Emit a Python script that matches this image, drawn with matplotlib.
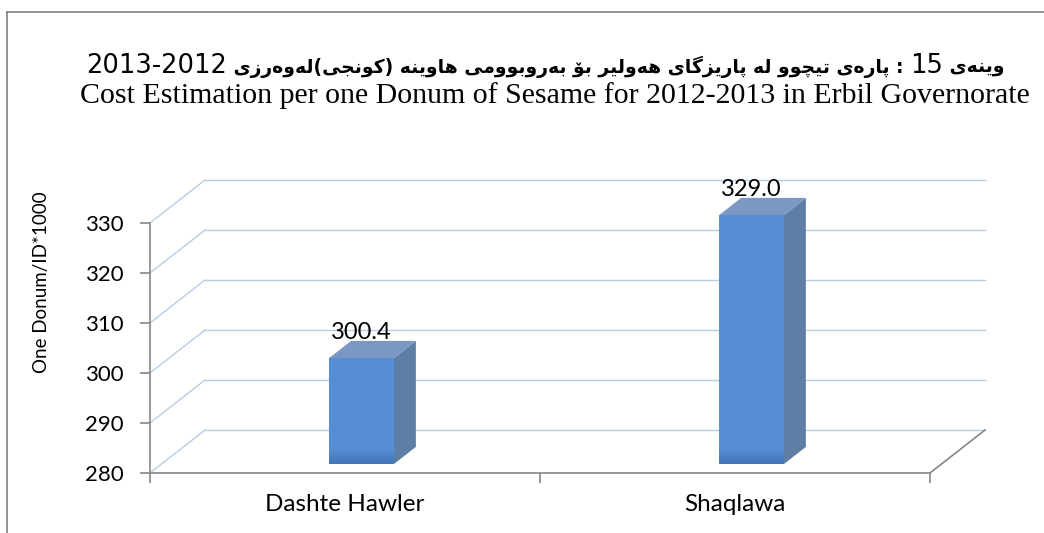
import re
import numpy as np
import matplotlib.pyplot as plt
from matplotlib.patches import Polygon, Rectangle

# chart data
categories = ["Dashte Hawler", "Shaqlawa"]
values = [300.4, 329.0]
value_labels = ["300.4", "329.0"]
y_ticks = [280, 290, 300, 310, 320, 330]

title_ku = "وێنەی 15 : پارەی تێچوو لە پارێزگای هەولێر بۆ بەروبوومی هاوینە (کونجی)لەوەرزی 2012-2013"
title_en = "Cost Estimation per one Donum of Sesame for 2012-2013 in Erbil Governorate"
y_label = "One Donum/ID*1000"

# presentation forms: (isolated, final[, initial, medial])
FORMS = {
    'ا': ('\uFE8D', '\uFE8E'),
    'ب': ('\uFE8F', '\uFE90', '\uFE91', '\uFE92'),
    'پ': ('\uFB56', '\uFB57', '\uFB58', '\uFB59'),
    'ت': ('\uFE95', '\uFE96', '\uFE97', '\uFE98'),
    'ج': ('\uFE9D', '\uFE9E', '\uFE9F', '\uFEA0'),
    'چ': ('\uFB7A', '\uFB7B', '\uFB7C', '\uFB7D'),
    'ر': ('\uFEAD', '\uFEAE'),
    'ز': ('\uFEAF', '\uFEB0'),
    'ک': ('\uFB8E', '\uFB8F', '\uFB90', '\uFB91'),
    'گ': ('\uFB92', '\uFB93', '\uFB94', '\uFB95'),
    'ل': ('\uFEDD', '\uFEDE', '\uFEDF', '\uFEE0'),
    'م': ('\uFEE1', '\uFEE2', '\uFEE3', '\uFEE4'),
    'ن': ('\uFEE5', '\uFEE6', '\uFEE7', '\uFEE8'),
    'ه': ('\uFEE9', '\uFEEA', '\uFEEB', '\uFEEC'),
    'ە': ('\uFEE9', '\uFEEA'),
    'و': ('\uFEED', '\uFEEE'),
    'ۆ': ('\uFBD9', '\uFBDA'),
    'ی': ('\uFBFC', '\uFBFD', '\uFBFE', '\uFBFF'),
    'ێ': ('\uFBFC', '\uFBFD', '\uFBFE', '\uFBFF'),
}


def shape(text):
    out = []
    for i, ch in enumerate(text):
        if ch not in FORMS:
            out.append(ch)
            continue
        prev = text[i - 1] if i > 0 else ''
        nxt = text[i + 1] if i + 1 < len(text) else ''
        join_prev = prev in FORMS and len(FORMS[prev]) == 4
        join_next = len(FORMS[ch]) == 4 and nxt in FORMS
        f = FORMS[ch]
        if join_prev and join_next:
            out.append(f[3])
        elif join_prev:
            out.append(f[1])
        elif join_next:
            out.append(f[2])
        else:
            out.append(f[0])
    return ''.join(out)


def visual_rtl(text):
    s = shape(text)[::-1]
    s = re.sub(r'[0-9]+', lambda m: m.group(0)[::-1], s)
    return s.translate(str.maketrans('()', ')('))


W, H = 1044, 533
fig = plt.figure(figsize=(W / 100, H / 100), dpi=100)

# front plane: x 0..1, y 280..; back wall offset
DX, DY = 55 / 780, 8.6
ax = fig.add_axes([150 / W, 1 - 473 / H, 858 / W, 305 / H])
ax.set_xlim(0, 1.1)
ax.set_ylim(280, 341)
ax.patch.set_visible(False)

grid_c = '#B9CDE5'
axis_c = '#868686'
for v in y_ticks:
    ax.plot([0, DX], [v, v + DY], color=grid_c, lw=1, zorder=1)
    ax.plot([DX, 1 + DX], [v + DY, v + DY], color=grid_c, lw=1, zorder=1)
ax.plot([1, 1 + DX], [280, 280 + DY], color=axis_c, lw=1.2, zorder=1)

for s in ['top', 'right']:
    ax.spines[s].set_visible(False)
ax.spines['left'].set_bounds(280, 330)
ax.spines['bottom'].set_bounds(0, 1)
for s in ['left', 'bottom']:
    ax.spines[s].set_color(axis_c)
    ax.spines[s].set_linewidth(1.2)
    ax.spines[s].set_zorder(2)

ax.set_yticks(y_ticks)
ax.tick_params(axis='y', direction='out', length=7, color=axis_c, pad=12,
               labelsize=16, width=1.2)
ax.set_xticks([0, 0.5, 1])
ax.set_xticklabels([])
ax.tick_params(axis='x', which='major', direction='out', length=7,
               color=axis_c, width=1.2)
centers = [0.25, 0.75]
ax.set_xticks(centers, minor=True)
ax.set_xticklabels(categories, minor=True)
ax.tick_params(axis='x', which='minor', length=0, pad=15, labelsize=17.5)
for lab in ax.get_yticklabels() + ax.get_xticklabels(minor=True):
    lab.set_family('Lato')

# 3d columns
d0, d1 = 0.3, 0.7
bw = 0.083
front_c, top_c, side_c = '#558ED5', '#7B98C4', '#5F7EA6'
for c, v, lab in zip(centers, values, value_labels):
    xl = c - bw / 2 + d0 * DX
    xr = c + bw / 2 + d0 * DX
    yb = 280 + d0 * DY - 0.8
    yt = v + d0 * DY
    ox, oy = (d1 - d0) * DX, (d1 - d0) * DY
    side = Polygon([(xr, yb), (xr + ox, yb + oy), (xr + ox, yt + oy), (xr, yt)],
                   closed=True, fc=side_c, ec='none', zorder=3)
    top = Polygon([(xl, yt), (xr, yt), (xr + ox, yt + oy), (xl + ox, yt + oy)],
                  closed=True, fc=top_c, ec='none', zorder=3)
    front = Rectangle((xl, yb), xr - xl, yt - yb, fc=front_c, ec='none', zorder=4)
    ax.add_patch(side)
    ax.add_patch(top)
    ax.add_patch(front)
    # darker shading at the foot of the column
    for k in range(6):
        ax.add_patch(Rectangle((xl, yb), xr - xl, 0.45 * (k + 1), fc='#2F5A93',
                               ec='none', alpha=0.08, zorder=5))
    ax.text((xl + xr) / 2, yt + oy + 1.6, lab, ha='center', va='center',
            fontsize=17, family='Lato', color='black', zorder=6)

fig.text(42 / W, 1 - 282 / H, y_label, rotation=90, ha='center', va='center',
         fontsize=13.5, family='Lato')

# chart border
fig.add_artist(plt.Line2D([7 / W, 7 / W], [0, 1 - 12 / H], color='#898989', lw=1.3))
fig.add_artist(plt.Line2D([7 / W, 1], [1 - 12 / H, 1 - 12 / H], color='#898989', lw=1.3))

fig.text(555 / W, 1 - 96 / H, title_en, ha='center', va='center',
         fontsize=21.5, family='Liberation Serif')

# first title line: bold arabic runs with plain digit runs, laid out left to right
vis = visual_rtl(title_ku)
parts = [p for p in re.split(r'([0-9][0-9\-]*[0-9]|[0-9])', vis) if p]
renderer = fig.canvas.get_renderer()
texts = []
for p in parts:
    if p[0].isdigit():
        t = fig.text(0, 1 - 66 / H, p, fontsize=18.5, family='DejaVu Sans',
                     va='center', ha='left')
    else:
        t = fig.text(0, 1 - 67 / H, p, fontsize=13.5, family='DejaVu Sans',
                     weight='bold', va='center', ha='left')
    texts.append(t)
widths = [t.get_window_extent(renderer).width for t in texts]
x = 545 - sum(widths) / 2
for t, w in zip(texts, widths):
    t.set_x(x / W)
    x += w

fig.savefig('out.png', dpi=100)
